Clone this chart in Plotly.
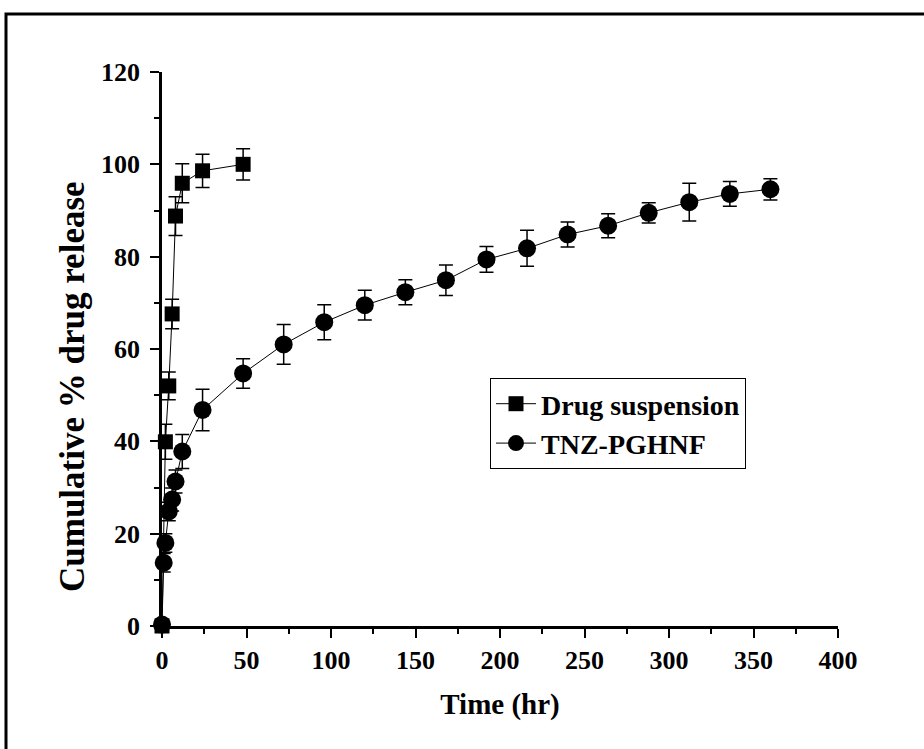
import plotly.graph_objects as go

# Drug suspension
ds_time = [0, 2, 4, 6, 8, 12, 24, 48]
ds_release = [0, 39.9, 52.0, 67.6, 88.8, 95.9, 98.6, 100.0]
ds_err = [0, 3.8, 3.0, 3.2, 4.2, 4.2, 3.6, 3.4]

# TNZ-PGHNF
tn_time = [0, 1, 2, 4, 6, 8, 12, 24, 48, 72, 96, 120, 144, 168, 192, 216, 240, 264, 288, 312, 336, 360]
tn_release = [0.3, 13.7, 18.0, 24.8, 27.4, 31.3, 37.8, 46.8, 54.7, 61.0, 65.8, 69.5, 72.3, 74.9, 79.4, 81.8,
              84.8, 86.7, 89.5, 91.8, 93.6, 94.6]
tn_err = [0, 2.0, 2.0, 2.0, 2.5, 2.5, 3.7, 4.5, 3.2, 4.3, 3.8, 3.2, 2.7, 3.3, 2.8, 3.9,
          2.7, 2.6, 2.2, 4.1, 2.7, 2.3]

x_ticks = [0, 50, 100, 150, 200, 250, 300, 350, 400]
y_ticks = [0, 20, 40, 60, 80, 100, 120]

FONT = "Liberation Serif"

fig = go.Figure()
fig.add_trace(go.Scatter(
    x=ds_time, y=ds_release, name="Drug suspension", mode="lines+markers",
    line=dict(color="black", width=1),
    marker=dict(symbol="square", size=15, color="black"),
    error_y=dict(type="data", array=ds_err, visible=True, color="black", thickness=1.5, width=7),
    cliponaxis=False,
))
fig.add_trace(go.Scatter(
    x=tn_time, y=tn_release, name="TNZ-PGHNF", mode="lines+markers",
    line=dict(color="black", width=1),
    marker=dict(symbol="circle", size=18, color="black"),
    error_y=dict(type="data", array=tn_err, visible=True, color="black", thickness=1.5, width=7),
    cliponaxis=False,
))

L, R, T, B = 162, 86, 72, 123
W, H = 924, 749
pw, ph = W - L - R, H - T - B

fig.update_layout(
    width=W, height=H,
    margin=dict(l=L, r=R, t=T, b=B, pad=0),
    paper_bgcolor="white", plot_bgcolor="white",
    font=dict(family=FONT, color="black", size=26),
    showlegend=True,
    legend=dict(
        x=(490 - L) / pw, y=(H - B - 378) / ph, xanchor="left", yanchor="top",
        bordercolor="black", borderwidth=1, bgcolor="white",
        font=dict(family=FONT, size=28, color="black", weight="bold"),
        tracegroupgap=0, itemwidth=40,
    ),
    xaxis=dict(
        range=[0, 400], tickvals=x_ticks, ticktext=[str(v) for v in x_ticks],
        showgrid=False, zeroline=False, showline=True, linecolor="black", linewidth=2.5,
        ticks="outside", ticklen=9, tickwidth=2, tickcolor="black",
        tickfont=dict(family=FONT, size=26, weight="bold"),
        minor=dict(dtick=25, ticks="outside", ticklen=5, tickwidth=2, tickcolor="black", showgrid=False),
        title=dict(text="Time (hr)", font=dict(family=FONT, size=29, weight="bold"), standoff=20),
    ),
    yaxis=dict(
        range=[0, 120], tickvals=y_ticks, ticktext=[str(v) for v in y_ticks],
        showgrid=False, zeroline=False, showline=True, linecolor="black", linewidth=2.5,
        ticks="outside", ticklen=9, tickwidth=2, tickcolor="black", ticklabelstandoff=5,
        tickfont=dict(family=FONT, size=26, weight="bold"),
        minor=dict(dtick=10, ticks="outside", ticklen=5, tickwidth=2, tickcolor="black", showgrid=False),
    ),
    annotations=[dict(
        text="<b>Cumulative % drug release</b>", xref="paper", yref="paper",
        x=(72 - L) / pw, y=(H - B - 387) / ph, xanchor="center", yanchor="middle",
        textangle=-90, showarrow=False, font=dict(family=FONT, size=35, color="black"),
    )],
    shapes=[dict(
        type="rect", xref="paper", yref="paper",
        x0=(6 - L) / pw, x1=(935 - L) / pw,
        y0=(H - B - 760) / ph, y1=(H - B - 14) / ph,
        line=dict(color="black", width=3), fillcolor="rgba(0,0,0,0)", layer="below",
    )],
)

fig.write_html("out.html")
